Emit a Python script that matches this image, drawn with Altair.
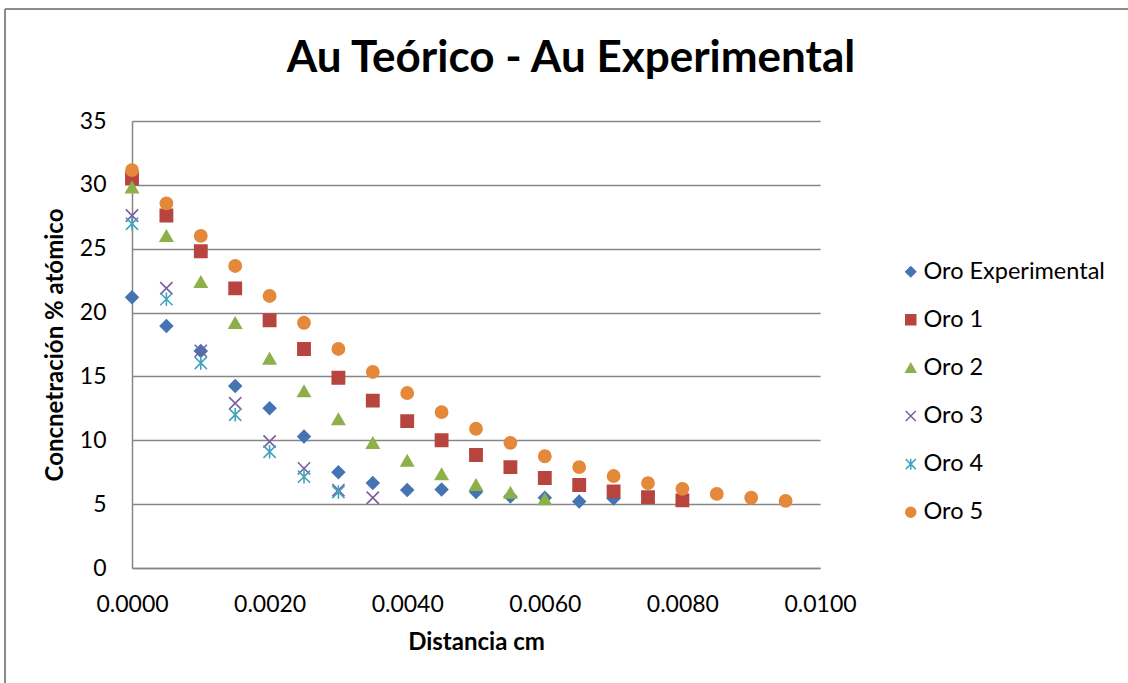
import altair as alt
import pandas as pd

series_names = ["Oro Experimental", "Oro 1", "Oro 2", "Oro 3", "Oro 4", "Oro 5"]
distancia = [0.0000, 0.0005, 0.0010, 0.0015, 0.0020, 0.0025, 0.0030, 0.0035, 0.0040, 0.0045,
             0.0050, 0.0055, 0.0060, 0.0065, 0.0070, 0.0075, 0.0080, 0.0085, 0.0090, 0.0095]
oro_exp = [21.2, 18.95, 17.0, 14.25, 12.5, 10.3, 7.5, 6.65, 6.1, 6.15, 5.95, 5.6, 5.5, 5.2, 5.45]
oro_1 = [30.5, 27.6, 24.8, 21.9, 19.4, 17.15, 14.9, 13.1, 11.5, 10.0, 8.85, 7.9, 7.05, 6.5, 6.0, 5.55, 5.3]
oro_2 = [29.8, 26.0, 22.4, 19.2, 16.4, 13.85, 11.65, 9.8, 8.4, 7.35, 6.5, 5.9, 5.4]
oro_3 = [27.6, 21.9, 17.0, 12.9, 9.9, 7.8, 6.1, 5.5]
oro_4 = [26.95, 21.05, 16.05, 12.0, 9.1, 7.15, 5.95]
oro_5 = [31.15, 28.55, 26.0, 23.65, 21.3, 19.2, 17.15, 15.35, 13.7, 12.2, 10.9, 9.8, 8.75,
         7.9, 7.2, 6.65, 6.2, 5.8, 5.5, 5.25]

colors = ["#4674B3", "#B8443F", "#8DB04B", "#7A5E9E", "#43A3BE", "#E4883A"]
shapes = ["diamond", "square", "triangle-up",
          "M-1,-1L1,1M1,-1L-1,1",
          "M-1,-1L1,1M1,-1L-1,1M0,-1.1L0,1.1",
          "circle"]

rows = []
for name, vals in zip(series_names, [oro_exp, oro_1, oro_2, oro_3, oro_4, oro_5]):
    for d, v in zip(distancia, vals):
        rows.append({"serie": name, "dist": d, "conc": v})
df = pd.DataFrame(rows)

FONT = "Lato"
W, H = 688, 447
L, T = 132, 121

scale_c = alt.Scale(domain=series_names, range=colors)
scale_s = alt.Scale(domain=series_names, range=shapes)
leg = alt.Legend(title=None, orient="none", legendX=767, legendY=139,
                 labelFont=FONT, labelFontSize=23.5, labelColor="#000000", labelLimit=400,
                 symbolSize=100, symbolStrokeWidth=1.5, rowPadding=23.1,
                 labelOffset=1, padding=0)

points = alt.Chart(df).mark_point(opacity=1, strokeWidth=1.6, size=150).encode(
    x=alt.X("dist:Q", scale=alt.Scale(domain=[0, 0.01], nice=False),
            axis=alt.Axis(title="Distancia cm", values=[0, 0.002, 0.004, 0.006, 0.008, 0.01],
                          format=".4f", grid=False, ticks=False, labelPadding=25,
                          labelFlush=False, titlePadding=14)),
    y=alt.Y("conc:Q", scale=alt.Scale(domain=[0, 35], nice=False),
            axis=alt.Axis(title="Concnetración % atómico", values=[0, 5, 10, 15, 20, 25, 30, 35],
                          grid=True, ticks=False, labelPadding=26, titlePadding=12)),
    fill=alt.Fill("serie:N", scale=scale_c, legend=leg, sort=series_names),
    stroke=alt.Stroke("serie:N", scale=scale_c, legend=leg, sort=series_names),
    shape=alt.Shape("serie:N", scale=scale_s, legend=leg, sort=series_names),
    order=alt.Order("ord:Q"),
).transform_calculate(
    ord="indexof(" + str(series_names) + ", datum.serie)"
)

border = alt.Chart(pd.DataFrame({"k": [0]})).mark_rule(color="#8C8C8C", strokeWidth=2).encode(
    x=alt.value(5 - L), x2=alt.value(1128 - L + 5), y=alt.value(9 - T), y2=alt.value(9 - T)
)
border2 = alt.Chart(pd.DataFrame({"k": [0]})).mark_rule(color="#8C8C8C", strokeWidth=2).encode(
    x=alt.value(5 - L), x2=alt.value(5 - L), y=alt.value(9 - T), y2=alt.value(683 - T + 5)
)

chart = alt.layer(border, border2, points).properties(
    width=W, height=H,
    background="white",
    autosize=alt.AutoSizeParams(type="none"),
    padding={"left": L, "top": T, "right": 1128 - L - W, "bottom": 683 - T - H},
    title=alt.TitleParams("Au Teórico - Au Experimental", font=FONT, fontSize=44,
                          fontWeight="bold", color="#000000", anchor="middle",
                          baseline="alphabetic", dx=95, dy=108, offset=0),
).configure_view(stroke=None).configure_axis(
    labelFont=FONT, labelFontSize=23, labelColor="#000000",
    titleFont=FONT, titleFontSize=24, titleFontWeight="bold", titleColor="#000000",
    domainColor="#868686", domainWidth=1.5, gridColor="#868686", gridWidth=1.5,
)

chart.save("out.html", embed_options={"renderer": "svg", "actions": False})
